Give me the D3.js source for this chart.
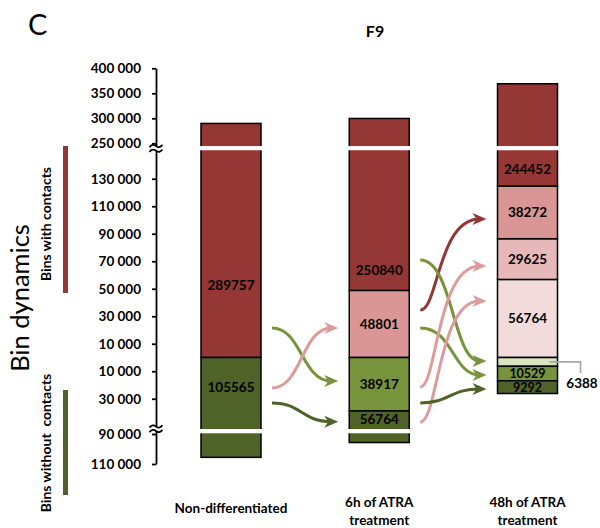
<!DOCTYPE html>
<html>
<head>
<meta charset="utf-8">
<script src="https://cdn.jsdelivr.net/npm/d3@7"></script>
<style>
  html, body { margin: 0; padding: 0; background: #fff; }
  svg { display: block; font-family: Lato, "Open Sans", sans-serif; }
</style>
</head>
<body>
<svg id="chart" width="600" height="528"></svg>
<script>
// ---------------- DATA ----------------
const categories = ["Non-differentiated", "6h of ATRA treatment", "48h of ATRA treatment"];
const categoryLines = [["Non-differentiated"], ["6h of ATRA", "treatment"], ["48h of ATRA", "treatment"]];

// Bins with contacts (stacked upward from 0, bottom segment first)
const withContacts = [
  [289757],
  [48801, 250840],
  [56764, 29625, 38272, 244452]
];
// Bins without contacts (stacked downward from 0, top segment first)
const withoutContacts = [
  [105565],
  [38917, 56764],
  [6388, 10529, 9292]
];

// axis tick values (negative = bins without contacts, drawn below 0)
const tickValues = [400000, 350000, 300000, 250000, 130000, 110000, 90000, 70000,
                    50000, 30000, 10000, -10000, -30000, -90000, -110000];

// transitions between stages: from stage, start value, end value, kind
const flowFrom  = [0, 0, 0, 1, 1, 1, 1, 1, 1];
const flowStart = [21500, -22200, -33100, 34500, 70900, 21500, -21500, -46900, -33100];
const flowEnd   = [-17100, 21500, -46700, 100700, -2500, -12700, 66500, 41100, -22900];
const flowKind  = ["lose", "gain", "stay", "stayC", "lose", "lose", "gain", "gain", "stay"];

// ---------------- STYLE ----------------
const C = {
  darkRed: "#953735", pink: "#D99694", lightPink: "#E6B9B8", palePink: "#F2DCDB",
  darkGreen: "#4F6228", green: "#77933C", paleGreen: "#D7E4BD"
};
const withColors = [[C.darkRed], [C.pink, C.darkRed], [C.palePink, C.lightPink, C.pink, C.darkRed]];
const withoutColors = [[C.darkGreen], [C.green, C.darkGreen], [C.paleGreen, C.green, C.darkGreen]];
const flowColors = { lose: C.green, gain: "#DC9C9A", stay: C.darkGreen, stayC: "#943634" };
const flowBend = [0.5, 0.5, 0.5, 0.3, 0.55, 0.55, 0.28, 0.3, 0.5];

const svg = d3.select("#chart");
const FONT_B = "bold";

// broken (piecewise) value scale
const y = d3.scaleLinear()
  .domain([-110000, -87000, -51300, 0, 150000, 245000, 400000])
  .range([464, 429.5, 428, 357.5, 151.25, 145.8, 68.3]);
const LOWER_LIMIT = -51300, UPPER_LIMIT = 150000;

const x = d3.scalePoint().domain(categories).range([231, 527.5]);
const barW = 60;

// ---------------- TITLE TEXTS ----------------
svg.append("text").attr("x", 28).attr("y", 35).attr("font-size", 29).text("C");
svg.append("text").attr("x", 375).attr("y", 36.5).attr("text-anchor", "middle")
  .attr("font-size", 16).attr("font-weight", FONT_B).text("F9");

svg.append("text").attr("transform", "translate(29,298) rotate(-90)")
  .attr("text-anchor", "middle").attr("font-size", 25.5).text("Bin dynamics");
svg.append("text").attr("transform", "translate(51,224) rotate(-90)")
  .attr("text-anchor", "middle").attr("font-size", 14).attr("font-weight", FONT_B)
  .text("Bins with contacts");
svg.append("text").attr("transform", "translate(51,443) rotate(-90)")
  .attr("text-anchor", "middle").attr("font-size", 14).attr("font-weight", FONT_B)
  .style("white-space", "pre").text("Bins without  contacts");
svg.append("rect").attr("x", 63).attr("y", 146).attr("width", 5).attr("height", 147).attr("fill", C.darkRed);
svg.append("rect").attr("x", 63).attr("y", 390).attr("width", 5).attr("height", 105).attr("fill", C.darkGreen);

// ---------------- AXIS ----------------
const fmt = d3.formatLocale({ decimal: ".", thousands: "\u00a0", grouping: [3], currency: ["", ""] }).format(",");
const axisG = svg.append("g").attr("transform", "translate(156,0)")
  .call(d3.axisLeft(y).tickValues(tickValues).tickFormat(v => fmt(Math.abs(v)))
        .tickSize(4).tickSizeOuter(0).tickPadding(11));
axisG.select(".domain").attr("stroke", "#000").attr("stroke-width", 1.8);
axisG.selectAll(".tick line").attr("stroke", "#000").attr("stroke-width", 1.8);
axisG.selectAll(".tick text").attr("font-family", "Lato, 'Open Sans', sans-serif")
  .attr("font-size", 13.5).attr("font-weight", FONT_B).attr("fill", "#000");

function axisBreak(yc) {
  const g = svg.append("g");
  g.append("rect").attr("x", 149).attr("y", yc - 2).attr("width", 15).attr("height", 4).attr("fill", "#fff");
  [yc - 2.3, yc + 2.3].forEach(yy => {
    g.append("path")
      .attr("d", `M149.5,${yy + 1.2} q3.2,-4 6.5,-1.2 t6.5,-1.2`)
      .attr("fill", "none").attr("stroke", "#000").attr("stroke-width", 1.8);
  });
}
axisBreak(y(200000));
axisBreak(y(-69000));

// ---------------- BARS ----------------
const labelNudge = { "0-w0": 31, "1-w1": 49, "0-o0": -6, "2-o1": -0.5, "2-o2": 0.8 };
const barsG = svg.append("g");
categories.forEach((cat, i) => {
  const cx = x(cat);
  const g = barsG.append("g");
  const segs = [];
  let acc = 0;
  withContacts[i].forEach((v, j) => {
    segs.push({ lo: acc, hi: acc + v, v, color: withColors[i][j], key: `${i}-w${j}` });
    acc += v;
  });
  acc = 0;
  withoutContacts[i].forEach((v, j) => {
    segs.push({ lo: -(acc + v), hi: -acc, v, color: withoutColors[i][j], key: `${i}-o${j}` });
    acc += v;
  });
  g.selectAll("rect.seg").data(segs).join("rect").attr("class", "seg")
    .attr("x", cx - barW / 2).attr("width", barW)
    .attr("y", d => y(d.hi)).attr("height", d => y(d.lo) - y(d.hi))
    .attr("fill", d => d.color).attr("stroke", "#000").attr("stroke-width", 1.5);

  const top = d3.sum(withContacts[i]);
  const bottom = -d3.sum(withoutContacts[i]);
  if (top > UPPER_LIMIT) {
    g.append("rect").attr("x", cx - barW / 2 - 2).attr("width", barW + 4)
      .attr("y", y(UPPER_LIMIT) - 5.2).attr("height", 4.2).attr("fill", "#fff");
  }
  if (bottom < LOWER_LIMIT) {
    g.append("rect").attr("x", cx - barW / 2 - 2).attr("width", barW + 4)
      .attr("y", y(LOWER_LIMIT) + 1).attr("height", 4.3).attr("fill", "#fff");
  }

  // labels
  segs.forEach(d => {
    if (d.key === "2-o0") return; // thin segment, labelled with a leader
    const a = Math.max(d.lo, LOWER_LIMIT), b = Math.min(d.hi, UPPER_LIMIT);
    const px = y(a) - y(b);
    const yy = (y(a) + y(b)) / 2 + (labelNudge[d.key] || 0);
    g.append("text").attr("x", cx).attr("y", yy).attr("dy", "0.36em")
      .attr("text-anchor", "middle").attr("font-size", px < 16 ? 12.5 : 13.5).attr("font-weight", FONT_B)
      .attr("fill", "#000").text(d.v);
  });
});

// leader for the thin 6388 segment
{
  const cx = x(categories[2]);
  const v = withoutContacts[2][0];
  const yy = y(-v / 2);
  svg.append("path")
    .attr("d", `M${cx + 22},${yy} H${cx + 53} V${yy + 11}`)
    .attr("fill", "none").attr("stroke", "#A6A6A6").attr("stroke-width", 1.6);
  svg.append("text").attr("x", cx + 54.5).attr("y", yy + 21).attr("dy", "0.36em")
    .attr("text-anchor", "middle").attr("font-size", 13.5).attr("font-weight", FONT_B).text(v);
}

// category labels
categories.forEach((cat, i) => {
  const lines = categoryLines[i];
  const t = svg.append("text").attr("text-anchor", "middle").attr("font-size", 13.5).attr("font-weight", FONT_B);
  lines.forEach((ln, k) => {
    t.append("tspan").attr("x", x(cat)).attr("y", (lines.length === 1 ? 513 : 506.5) + k * 18.5).text(ln);
  });
});

// ---------------- ARROWS ----------------
const defs = svg.append("defs");
Object.entries(flowColors).forEach(([k, col]) => {
  defs.append("marker").attr("id", "ah-" + k)
    .attr("viewBox", "-8 -7 16 14").attr("refX", 0).attr("refY", 0)
    .attr("markerWidth", 16).attr("markerHeight", 14)
    .attr("markerUnits", "userSpaceOnUse").attr("orient", "auto")
    .append("path").attr("d", "M7,0 L-7,-6 L-3,0 L-7,6 Z").attr("fill", col);
});
const arrowsG = svg.append("g");
flowStart.forEach((v0, k) => {
  const s = flowFrom[k];
  const x0 = x(categories[s]) + barW / 2 + 11;
  const x1 = x(categories[s + 1]) - barW / 2 - 18;
  const y0 = y(v0), y1 = y(flowEnd[k]);
  const dx = x1 - x0;
  const b = flowBend[k];
  arrowsG.append("path")
    .attr("d", `M${x0},${y0} C${x0 + dx * b},${y0} ${x0 + dx * b},${y1} ${x1},${y1}`)
    .attr("fill", "none").attr("stroke", flowColors[flowKind[k]]).attr("stroke-width", 3)
    .attr("marker-end", `url(#ah-${flowKind[k]})`);
});
</script>
</body>
</html>
